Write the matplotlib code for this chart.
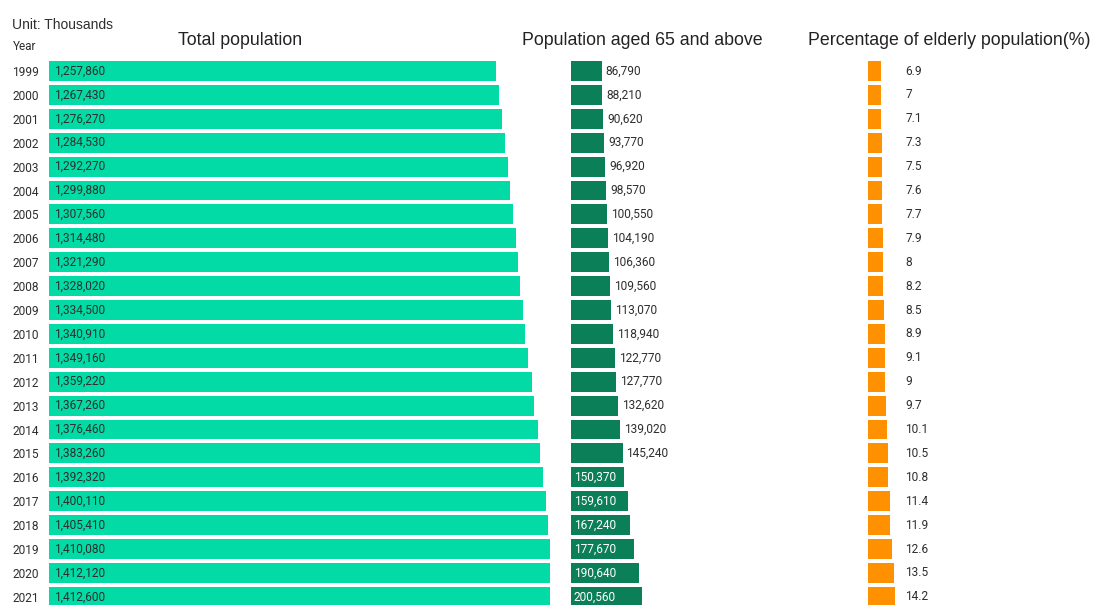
import matplotlib.pyplot as plt
import numpy as np

years = [1999, 2000, 2001, 2002, 2003, 2004, 2005, 2006, 2007, 2008, 2009, 2010,
         2011, 2012, 2013, 2014, 2015, 2016, 2017, 2018, 2019, 2020, 2021]
total = [1257860, 1267430, 1276270, 1284530, 1292270, 1299880, 1307560, 1314480,
         1321290, 1328020, 1334500, 1340910, 1349160, 1359220, 1367260, 1376460,
         1383260, 1392320, 1400110, 1405410, 1410080, 1412120, 1412600]
aged65 = [86790, 88210, 90620, 93770, 96920, 98570, 100550, 104190, 106360, 109560,
          113070, 118940, 122770, 127770, 132620, 139020, 145240, 150370, 159610,
          167240, 177670, 190640, 200560]
elderly_pct = [6.9, 7, 7.1, 7.3, 7.5, 7.6, 7.7, 7.9, 8, 8.2, 8.5, 8.9, 9.1, 9,
               9.7, 10.1, 10.5, 10.8, 11.4, 11.9, 12.6, 13.5, 14.2]

TEAL = '#02dba5'
DARK_GREEN = '#0a7f58'
ORANGE = '#ff9100'
TEXT = '#2e2e2e'
NUM_FONT = 'Roboto'
HEAD_FONT = 'Liberation Sans'
NUM_SIZE = 8.6

W, H = 1093, 605
fig = plt.figure(figsize=(W / 100, H / 100), dpi=100)

# row layout in pixels
row = 23.9
first_row = 71
top, bottom = 56, 605
pos = np.arange(len(years))
bar_h = 0.83
px_per_unit = 3.55e-4      # shared scale for both population panels
px_per_pct = 1.93


def panel(left, right, scale):
    ax = fig.add_axes([left / W, (H - bottom) / H, (right - left) / W, (bottom - top) / H])
    ax.set_xlim(0, (right - left) / scale)
    ax.set_ylim((bottom - first_row) / row, (top - first_row) / row)
    for s in ax.spines.values():
        s.set_visible(False)
    ax.set_xticks([])
    ax.set_yticks([])
    return ax


ax1 = panel(49, 560, px_per_unit)
ax2 = panel(571, 800, px_per_unit)
ax3 = panel(867.5, 1093, px_per_pct)

# total population
ax1.barh(pos, total, height=bar_h, color=TEAL)
ax1.set_yticks(pos)
ax1.set_yticklabels([str(y) for y in years], fontsize=NUM_SIZE, family=NUM_FONT, color=TEXT)
ax1.tick_params(axis='y', length=0, pad=7)
for i, v in enumerate(total):
    ax1.annotate(f"{v:,}", (0, i), xytext=(5, 0), textcoords='offset pixels',
                 va='center', ha='left', fontsize=NUM_SIZE, family=NUM_FONT, color=TEXT)

# population aged 65+
ax2.barh(pos, aged65, height=bar_h, color=DARK_GREEN)
for i, v in enumerate(aged65):
    if v >= 150000:
        ax2.annotate(f"{v:,}", (0, i), xytext=(3, 0), textcoords='offset pixels',
                     va='center', ha='left', fontsize=NUM_SIZE, family=NUM_FONT, color='white')
    else:
        ax2.annotate(f"{v:,}", (v, i), xytext=(4, 0), textcoords='offset pixels',
                     va='center', ha='left', fontsize=NUM_SIZE, family=NUM_FONT, color=TEXT)

# elderly share
ax3.barh(pos, elderly_pct, height=bar_h, color=ORANGE)
for i, v in enumerate(elderly_pct):
    ax3.text(19.5, i, f"{v:g}", va='center', ha='left', fontsize=NUM_SIZE,
             family=NUM_FONT, color=TEXT)

# headers
fig.text(12 / W, 1 - 29 / H, 'Unit: Thousands', fontsize=10, family=HEAD_FONT,
         color=TEXT, va='baseline', ha='left')
fig.text(13 / W, 1 - 50 / H, 'Year', fontsize=8.5, family=NUM_FONT,
         color=TEXT, va='baseline', ha='left')
fig.text(240 / W, 1 - 45 / H, 'Total population', fontsize=12.8, family=HEAD_FONT,
         color='#222222', va='baseline', ha='center')
fig.text(642 / W, 1 - 45 / H, 'Population aged 65 and above', fontsize=12.8,
         family=HEAD_FONT, color='#222222', va='baseline', ha='center')
fig.text(949 / W, 1 - 45 / H, 'Percentage of elderly population(%)', fontsize=12.8,
         family=HEAD_FONT, color='#222222', va='baseline', ha='center')

fig.savefig('out.png', dpi=100)
